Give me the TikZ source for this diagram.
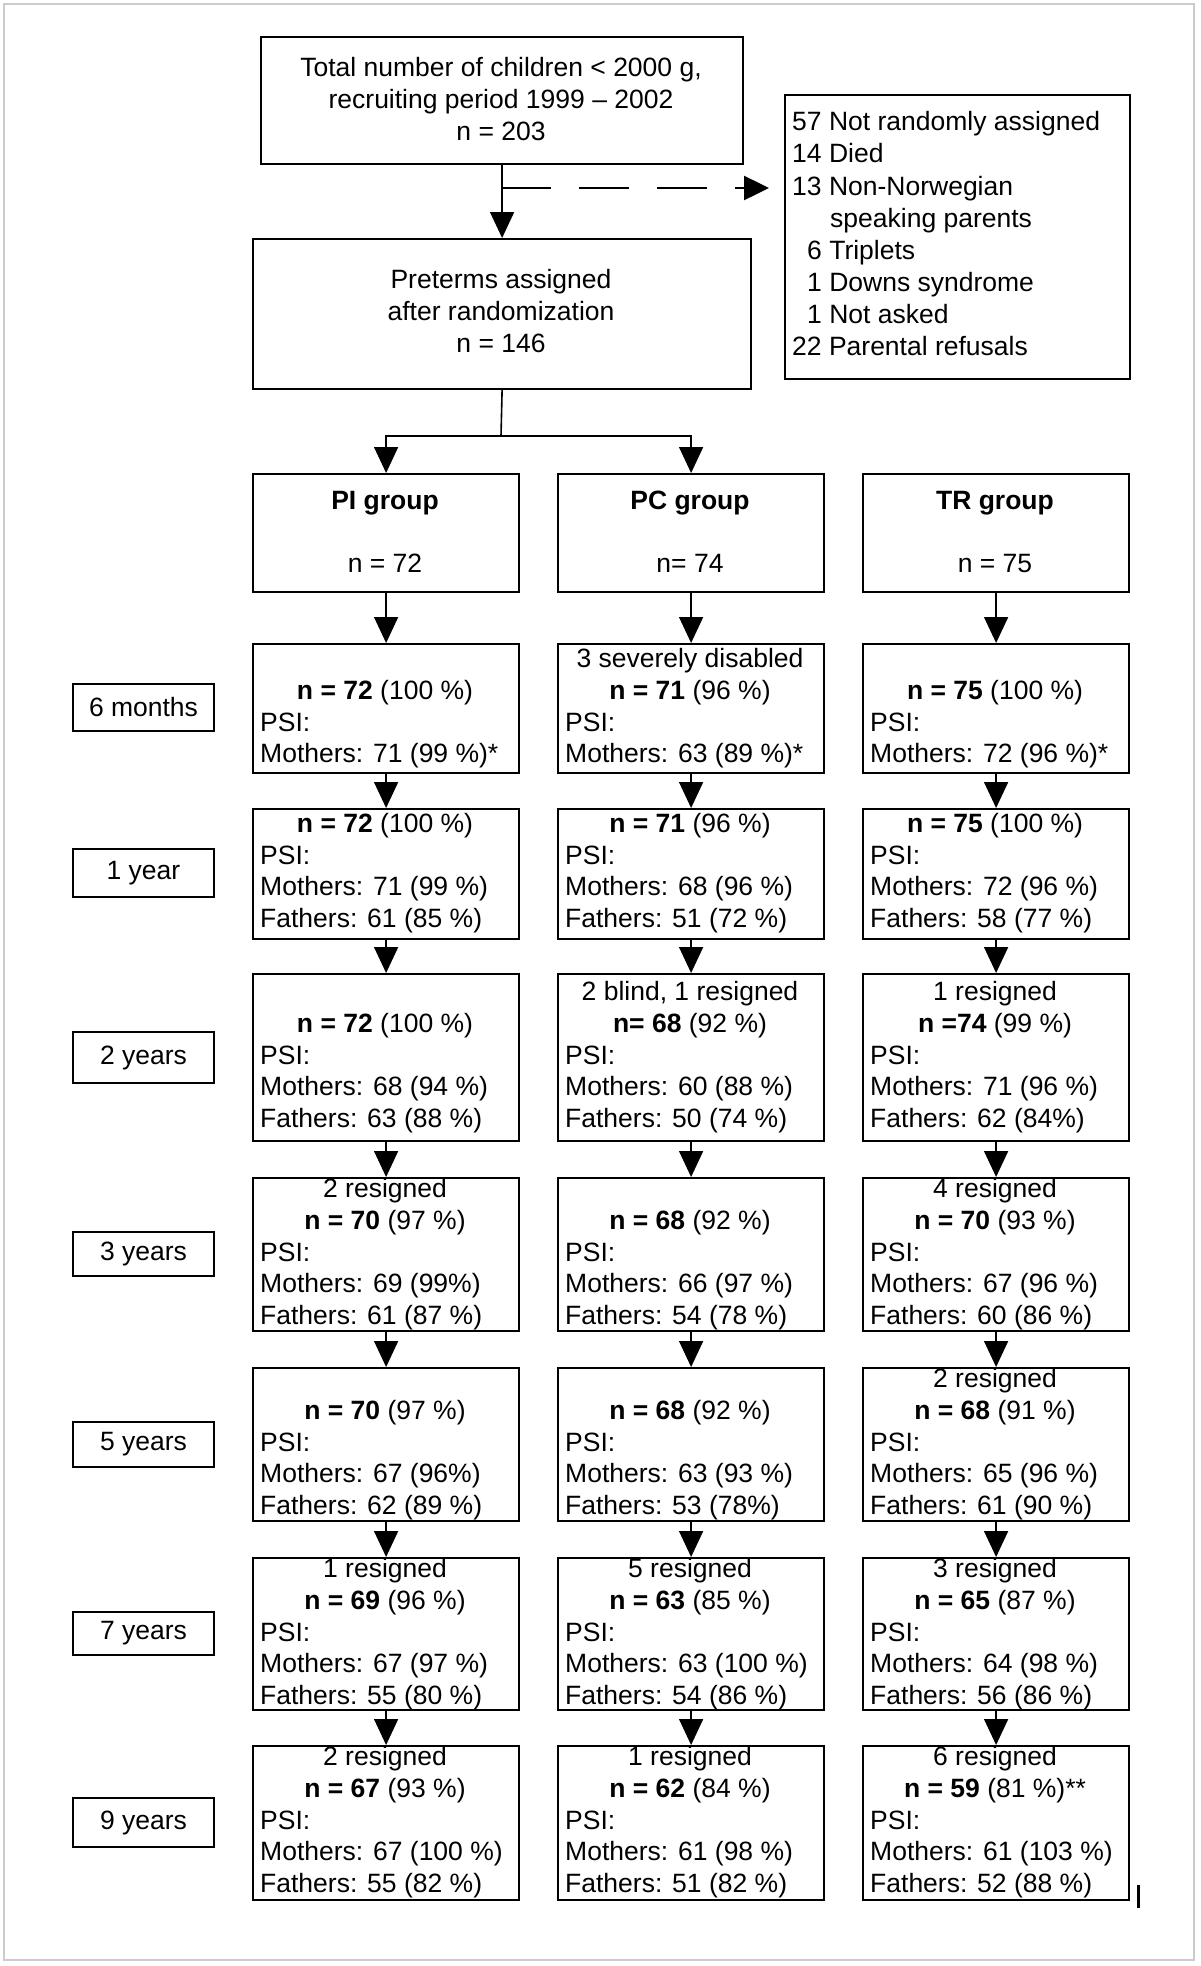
\documentclass[tikz,border=0pt]{standalone}
\usepackage{fontspec}
\setmainfont{Liberation Sans}
\usetikzlibrary{arrows.meta}
\tikzset{
  every node/.style={font=\fontsize{26.5}{32}\selectfont},
  box/.style={draw, line width=2.2pt, inner sep=0pt, anchor=north west},
  lbl/.style={draw, line width=2.2pt, inner sep=0pt, minimum width=141},
  ct/.style={anchor=base, inner sep=0pt},
  lt/.style={anchor=base west, inner sep=0pt},
  conn/.style={line width=1.6pt},
  arr/.style={line width=1.6pt, -{Triangle[width=24pt,length=26pt]}},
}
\newcommand\fcell[9]{%
  \node[box, minimum width=266, minimum height={#4-#3}] (#1) at (#2,#3) {};
  \node[ct] (#1a) at ({#2+133},{#5-23}) {#6};
  \node[ct] (#1b) at ({#2+133},{#5+9}) {#7};
  \node[lt] (#1c) at ({#2+8},{#5+41}) {PSI:};
  \node[lt] (#1d) at ({#2+8},{#5+72.5}) {#8};
  \node[lt] (#1e) at ({#2+8},{#5+104}) {#9};
}
\begin{document}
\begin{tikzpicture}[x=1pt,y=-1pt]
\useasboundingbox (0,0) rectangle (1200,1966);
\draw[black!20, line width=2pt] (4,4) rectangle (1194,1960);

% top
\node[box, minimum width=482, minimum height=127] (top) at (260,36) {};
\node[ct] (top1) at (501,76) {Total number of children < 2000 g,};
\node[ct] (top2) at (501,108) {recruiting period 1999 – 2002};
\node[ct] (top3) at (501,140) {n = 203};

\node[box, minimum width=498, minimum height=150] (pre) at (252,238) {};
\node[ct] (pre1) at (501,288) {Preterms assigned};
\node[ct] (pre2) at (501,320) {after randomization};
\node[ct] (pre3) at (501,352) {n = 146};

\node[box, minimum width=345, minimum height=284] (exc) at (784,94) {};
\node[lt] (exc1) at (792,130) {57 Not randomly assigned};
\node[lt] (exc2) at (792,162) {14 Died};
\node[lt] (exc3) at (792,195) {13 Non-Norwegian};
\node[lt] (exc4) at (830,227) {speaking parents};
\node[lt] (exc5) at (807,259) {6 Triplets};
\node[lt] (exc6) at (807,291) {1 Downs syndrome};
\node[lt] (exc7) at (807,323) {1 Not asked};
\node[lt] (exc8) at (792,355) {22 Parental refusals};

\draw[arr] (top.south) -- (pre.north);
\coordinate (dstart) at (501,188);
\coordinate (dtip) at (769,188);
\draw[line width=2.5pt, dash pattern=on 50pt off 28pt, -{Triangle[width=24pt,length=25pt]}] (dstart) -- (dtip);

% groups
\foreach \col/\xl/\nm/\nn in {pi/252/PI group/n = 72, pc/557/PC group/n= 74, tr/862/TR group/n = 75}{
  \node[box, minimum width=266, minimum height=118] (\col g) at (\xl,473) {};
  \node[ct, font=\fontsize{26.5}{32}\selectfont\bfseries] (\col ga) at ({\xl+133},509) {\nm};
  \node[ct] (\col gb) at ({\xl+133},572) {\nn};
}
\coordinate (split) at (501,436);
\draw[conn] (pre.south) -- (split);
\draw[arr] (split) -| (pig.north);
\draw[arr] (split) -| (pcg.north);

% 6 months
\fcell{pi6}{252}{643}{772}{690}{}{\textbf{n = 72} (100 \%)}{Mothers: 71 (99 \%)*}{}
\fcell{pc6}{557}{643}{772}{690}{3 severely disabled}{\textbf{n = 71} (96 \%)}{Mothers: 63 (89 \%)*}{}
\fcell{tr6}{862}{643}{772}{690}{}{\textbf{n = 75} (100 \%)}{Mothers: 72 (96 \%)*}{}
% 1 year
\fcell{pi1}{252}{808}{938}{823}{}{\textbf{n = 72} (100 \%)}{Mothers: 71 (99 \%)}{Fathers: 61 (85 \%)}
\fcell{pc1}{557}{808}{938}{823}{}{\textbf{n = 71} (96 \%)}{Mothers: 68 (96 \%)}{Fathers: 51 (72 \%)}
\fcell{tr1}{862}{808}{938}{823}{}{\textbf{n = 75} (100 \%)}{Mothers: 72 (96 \%)}{Fathers: 58 (77 \%)}
% 2 years
\fcell{pi2}{252}{973}{1140}{1023}{}{\textbf{n = 72} (100 \%)}{Mothers: 68 (94 \%)}{Fathers: 63 (88 \%)}
\fcell{pc2}{557}{973}{1140}{1023}{2 blind, 1 resigned}{\textbf{n= 68} (92 \%)}{Mothers: 60 (88 \%)}{Fathers: 50 (74 \%)}
\fcell{tr2}{862}{973}{1140}{1023}{1 resigned}{\textbf{n =74} (99 \%)}{Mothers: 71 (96 \%)}{Fathers: 62 (84\%)}
% 3 years
\fcell{pi3}{252}{1177}{1330}{1220}{2 resigned}{\textbf{n = 70} (97 \%)}{Mothers: 69 (99\%)}{Fathers: 61 (87 \%)}
\fcell{pc3}{557}{1177}{1330}{1220}{}{\textbf{n = 68} (92 \%)}{Mothers: 66 (97 \%)}{Fathers: 54 (78 \%)}
\fcell{tr3}{862}{1177}{1330}{1220}{4 resigned}{\textbf{n = 70} (93 \%)}{Mothers: 67 (96 \%)}{Fathers: 60 (86 \%)}
% 5 years
\fcell{pi5}{252}{1367}{1520}{1410}{}{\textbf{n = 70} (97 \%)}{Mothers: 67 (96\%)}{Fathers: 62 (89 \%)}
\fcell{pc5}{557}{1367}{1520}{1410}{}{\textbf{n = 68} (92 \%)}{Mothers: 63 (93 \%)}{Fathers: 53 (78\%)}
\fcell{tr5}{862}{1367}{1520}{1410}{2 resigned}{\textbf{n = 68} (91 \%)}{Mothers: 65 (96 \%)}{Fathers: 61 (90 \%)}
% 7 years
\fcell{pi7}{252}{1557}{1709}{1600}{1 resigned}{\textbf{n = 69} (96 \%)}{Mothers: 67 (97 \%)}{Fathers: 55 (80 \%)}
\fcell{pc7}{557}{1557}{1709}{1600}{5 resigned}{\textbf{n = 63} (85 \%)}{Mothers: 63 (100 \%)}{Fathers: 54 (86 \%)}
\fcell{tr7}{862}{1557}{1709}{1600}{3 resigned}{\textbf{n = 65} (87 \%)}{Mothers: 64 (98 \%)}{Fathers: 56 (86 \%)}
% 9 years
\fcell{pi9}{252}{1745}{1899}{1788}{2 resigned}{\textbf{n = 67} (93 \%)}{Mothers: 67 (100 \%)}{Fathers: 55 (82 \%)}
\fcell{pc9}{557}{1745}{1899}{1788}{1 resigned}{\textbf{n = 62} (84 \%)}{Mothers: 61 (98 \%)}{Fathers: 51 (82 \%)}
\fcell{tr9}{862}{1745}{1899}{1788}{6 resigned}{\textbf{n = 59} (81 \%)**}{Mothers: 61 (103 \%)}{Fathers: 52 (88 \%)}

\foreach \col in {pi,pc,tr}{
  \draw[arr] (\col g.south) -- (\col 6.north);
  \draw[arr] (\col 6.south) -- (\col 1.north);
  \draw[arr] (\col 1.south) -- (\col 2.north);
  \draw[arr] (\col 2.south) -- (\col 3.north);
  \draw[arr] (\col 3.south) -- (\col 5.north);
  \draw[arr] (\col 5.south) -- (\col 7.north);
  \draw[arr] (\col 7.south) -- (\col 9.north);
}

% time labels
\node[lbl, minimum height=47] (l6) at (143.5,707.5) {6 months};
\node[lbl, minimum height=48] (l1) at (143.5,873) {1 year};
\node[lbl, minimum height=51] (l2) at (143.5,1057.5) {2 years};
\node[lbl, minimum height=44] (l3) at (143.5,1254) {3 years};
\node[lbl, minimum height=45] (l5) at (143.5,1444.5) {5 years};
\node[lbl, minimum height=43] (l7) at (143.5,1633.5) {7 years};
\node[lbl, minimum height=49] (l9) at (143.5,1822.5) {9 years};

\draw[line width=3pt] (1138,1885) -- (1138,1908);
\end{tikzpicture}
\end{document}
